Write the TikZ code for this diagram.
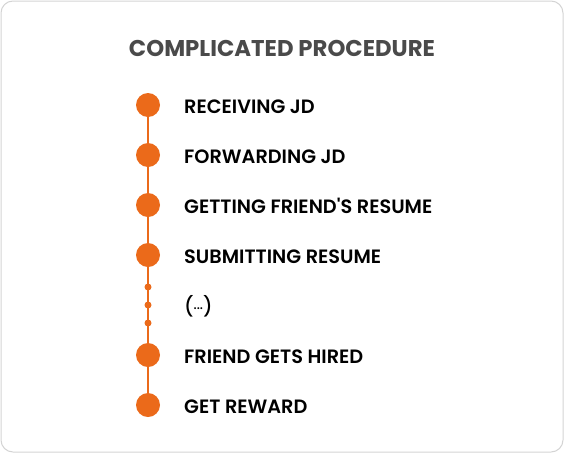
\documentclass[tikz,border=0pt]{standalone}
\usepackage{fontspec}
\setmainfont{Poppins}
\newfontfamily\stepfont{Poppins SemiBold}
\newfontfamily\gapfont{Poppins Medium}
\definecolor{procorange}{HTML}{EB6A1A}
\definecolor{titlegrey}{HTML}{4A4A4A}
\definecolor{framegrey}{HTML}{D4D4D4}
\tikzset{
  bigdot/.style={circle,fill=procorange,inner sep=0pt,minimum size=24pt},
  smalldot/.style={circle,fill=procorange,inner sep=0pt,minimum size=7pt},
  steptext/.style={anchor=base west,inner sep=0pt,font=\stepfont\fontsize{19.3}{22}\selectfont},
}
\begin{document}
\begin{tikzpicture}[x=1pt,y=-1pt]
            \useasboundingbox (0,0) rectangle (564,453);
            \draw[framegrey,line width=1pt,rounded corners=12pt] (1,1) rectangle (563,452);
            \node[anchor=base,inner sep=0pt,text=titlegrey,font=\bfseries\fontsize{22.8}{26}\selectfont] (title) at (282,56) {COMPLICATED PROCEDURE};

            \coordinate (top) at (148,105);
            \coordinate (bottom) at (148,405);
            \draw[procorange,line width=1.3pt] (top) -- (bottom);

            \node[bigdot] (s1) at (148,105) {};
            \node[bigdot] (s2) at (148,155) {};
            \node[bigdot] (s3) at (148,205) {};
            \node[bigdot] (s4) at (148,255) {};
            \node[smalldot] (d1) at (148,287) {};
            \node[smalldot] (d2) at (148,305) {};
            \node[smalldot] (d3) at (148,323) {};
            \node[bigdot] (s5) at (148,355) {};
            \node[bigdot] (s6) at (148,405) {};

            \node[steptext] (t1) at (184,113) {RECEIVING JD};
            \node[steptext] (t2) at (184,163) {FORWARDING JD};
            \node[steptext] (t3) at (184,213) {GETTING FRIEND'S RESUME};
            \node[steptext] (t4) at (184,263) {SUBMITTING RESUME};
            \node[steptext,font=\gapfont\fontsize{19.3}{22}\selectfont] (t5) at (184,313) {(\raisebox{0.35ex}{\fontsize{13}{13}\selectfont...})};
            \node[steptext] (t6) at (184,363) {FRIEND GETS HIRED};
            \node[steptext] (t7) at (184,413) {GET REWARD};
        \end{tikzpicture}
\end{document}
